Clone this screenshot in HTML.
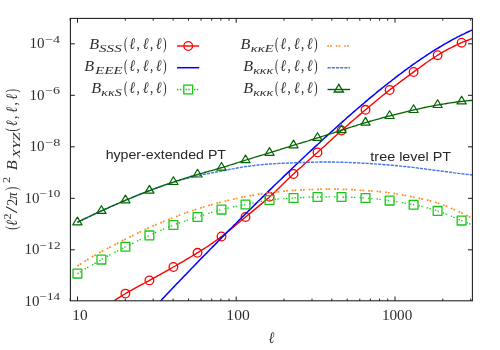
<!DOCTYPE html>
<html><head><meta charset="utf-8"><title>Bispectrum plot</title>
<style>
html,body{margin:0;padding:0;background:#fff;}
svg{display:block;}
text{fill:#2e2e2e;}
.rm{font-family:"Liberation Serif","DejaVu Serif",serif;}
.it{font-family:"Liberation Serif","DejaVu Serif",serif;font-style:italic;}
.ss{font-family:"Liberation Sans","DejaVu Sans",sans-serif;fill:#262626;}
</style></head><body>
<svg width="500" height="350" viewBox="0 0 500 350">
<rect x="0" y="0" width="500" height="350" fill="#ffffff"/>

<defs><clipPath id="pc"><rect x="70.4" y="18.4" width="402.0" height="282.4"/></clipPath></defs>
<path d="M70.4,249.8 h4.4 M472.4,249.8 h-4.4 M70.4,198.3 h4.4 M472.4,198.3 h-4.4 M70.4,146.8 h4.4 M472.4,146.8 h-4.4 M70.4,95.3 h4.4 M472.4,95.3 h-4.4 M70.4,43.8 h4.4 M472.4,43.8 h-4.4 M70.2,300.8 v-2.2 M70.2,18.4 v2.2 M77.5,300.8 v-4.3 M77.5,18.4 v4.3 M125.3,300.8 v-2.2 M125.3,18.4 v2.2 M153.2,300.8 v-2.2 M153.2,18.4 v2.2 M173.1,300.8 v-2.2 M173.1,18.4 v2.2 M188.5,300.8 v-2.2 M188.5,18.4 v2.2 M201.0,300.8 v-2.2 M201.0,18.4 v2.2 M211.7,300.8 v-2.2 M211.7,18.4 v2.2 M220.9,300.8 v-2.2 M220.9,18.4 v2.2 M229.0,300.8 v-2.2 M229.0,18.4 v2.2 M236.2,300.8 v-4.3 M236.2,18.4 v4.3 M284.0,300.8 v-2.2 M284.0,18.4 v2.2 M312.0,300.8 v-2.2 M312.0,18.4 v2.2 M331.8,300.8 v-2.2 M331.8,18.4 v2.2 M347.2,300.8 v-2.2 M347.2,18.4 v2.2 M359.8,300.8 v-2.2 M359.8,18.4 v2.2 M370.4,300.8 v-2.2 M370.4,18.4 v2.2 M379.6,300.8 v-2.2 M379.6,18.4 v2.2 M387.7,300.8 v-2.2 M387.7,18.4 v2.2 M395.0,300.8 v-4.3 M395.0,18.4 v4.3 M442.8,300.8 v-2.2 M442.8,18.4 v2.2 M470.7,300.8 v-2.2 M470.7,18.4 v2.2" stroke="#1a1a1a" stroke-width="1" fill="none"/>
<g clip-path="url(#pc)" fill="none" stroke-linejoin="round">
<polyline points="114.0,300.8 115.8,299.6 117.6,298.4 119.4,297.3 121.2,296.1 123.0,295.0 124.8,294.0 126.6,292.9 128.4,291.9 130.2,290.8 132.0,289.8 133.8,288.8 135.6,287.8 137.4,286.9 139.2,285.9 141.0,284.9 142.8,284.0 144.6,283.0 146.4,282.0 148.2,281.1 150.0,280.1 151.8,279.1 153.6,278.1 155.4,277.1 157.2,276.1 159.0,275.1 160.8,274.1 162.6,273.1 164.4,272.1 166.2,271.1 168.0,270.1 169.8,269.1 171.6,268.0 173.4,267.0 175.2,266.0 177.0,264.9 178.8,263.9 180.6,262.9 182.4,261.8 184.2,260.8 186.0,259.7 187.8,258.6 189.6,257.6 191.4,256.5 193.2,255.4 195.0,254.3 196.8,253.2 198.6,252.1 200.4,250.9 202.2,249.8 204.1,248.6 205.9,247.5 207.7,246.3 209.5,245.1 211.3,243.8 213.1,242.6 214.9,241.3 216.7,240.1 218.5,238.7 220.3,237.4 222.1,236.1 223.9,234.7 225.7,233.3 227.5,231.8 229.3,230.4 231.1,228.9 232.9,227.5 234.7,226.0 236.5,224.5 238.3,223.0 240.1,221.5 241.9,220.0 243.7,218.5 245.5,217.0 247.3,215.5 249.1,214.1 250.9,212.6 252.7,211.1 254.5,209.6 256.3,208.1 258.1,206.6 259.9,205.1 261.7,203.6 263.5,202.1 265.3,200.5 267.1,199.0 268.9,197.4 270.7,195.7 272.5,194.1 274.3,192.4 276.1,190.7 277.9,189.0 279.7,187.2 281.5,185.5 283.3,183.8 285.1,182.0 286.9,180.3 288.7,178.6 290.5,176.8 292.3,175.1 294.1,173.5 295.9,171.8 297.7,170.1 299.5,168.5 301.3,166.9 303.1,165.2 304.9,163.6 306.7,162.0 308.5,160.4 310.3,158.8 312.1,157.2 313.9,155.6 315.7,154.0 317.5,152.4 319.3,150.8 321.1,149.1 322.9,147.5 324.7,145.9 326.5,144.2 328.3,142.5 330.1,140.9 331.9,139.2 333.7,137.6 335.5,135.9 337.3,134.3 339.1,132.7 340.9,131.0 342.7,129.4 344.5,127.8 346.3,126.3 348.1,124.7 349.9,123.1 351.7,121.6 353.5,120.0 355.3,118.5 357.1,116.9 358.9,115.4 360.7,113.9 362.5,112.3 364.3,110.8 366.1,109.3 367.9,107.8 369.7,106.3 371.5,104.7 373.3,103.2 375.1,101.7 376.9,100.2 378.7,98.7 380.5,97.3 382.3,95.8 384.2,94.3 386.0,92.9 387.8,91.4 389.6,90.0 391.4,88.6 393.2,87.2 395.0,85.8 396.8,84.5 398.6,83.1 400.4,81.7 402.2,80.4 404.0,79.1 405.8,77.7 407.6,76.4 409.4,75.1 411.2,73.8 413.0,72.4 414.8,71.1 416.6,69.8 418.4,68.5 420.2,67.2 422.0,65.9 423.8,64.6 425.6,63.3 427.4,62.0 429.2,60.7 431.0,59.5 432.8,58.3 434.6,57.1 436.4,56.0 438.2,54.8 440.0,53.7 441.8,52.7 443.6,51.6 445.4,50.6 447.2,49.6 449.0,48.7 450.8,47.8 452.6,46.9 454.4,46.0 456.2,45.1 458.0,44.3 459.8,43.5 461.6,42.7 463.4,41.9 465.2,41.2 467.0,40.5 468.8,39.8 470.6,39.1 472.4,38.4" stroke="#ff0000" stroke-width="1.4"/>
<g stroke="#ff0000" stroke-width="1.3"><circle cx="125.4" cy="293.6" r="4.3"/><circle cx="149.4" cy="280.4" r="4.3"/><circle cx="173.4" cy="267.0" r="4.3"/><circle cx="197.5" cy="252.8" r="4.3"/><circle cx="221.5" cy="236.5" r="4.3"/><circle cx="245.5" cy="217.0" r="4.3"/><circle cx="269.5" cy="196.8" r="4.3"/><circle cx="293.5" cy="174.0" r="4.3"/><circle cx="317.5" cy="152.4" r="4.3"/><circle cx="341.5" cy="130.5" r="4.3"/><circle cx="365.5" cy="109.8" r="4.3"/><circle cx="389.6" cy="90.0" r="4.3"/><circle cx="413.6" cy="72.0" r="4.3"/><circle cx="437.6" cy="55.2" r="4.3"/><circle cx="461.6" cy="42.7" r="4.3"/></g>
<polyline points="158.0,303.7 159.6,302.0 161.2,300.3 162.7,298.6 164.3,297.0 165.9,295.3 167.5,293.6 169.1,291.9 170.7,290.3 172.2,288.6 173.8,286.9 175.4,285.3 177.0,283.6 178.6,282.0 180.2,280.3 181.7,278.7 183.3,277.0 184.9,275.4 186.5,273.7 188.1,272.1 189.7,270.4 191.2,268.8 192.8,267.2 194.4,265.5 196.0,263.9 197.6,262.3 199.2,260.6 200.7,259.0 202.3,257.4 203.9,255.8 205.5,254.2 207.1,252.6 208.7,250.9 210.2,249.3 211.8,247.7 213.4,246.1 215.0,244.5 216.6,242.9 218.2,241.3 219.7,239.7 221.3,238.1 222.9,236.5 224.5,234.9 226.1,233.3 227.6,231.7 229.2,230.1 230.8,228.5 232.4,227.0 234.0,225.4 235.6,223.8 237.1,222.2 238.7,220.6 240.3,219.0 241.9,217.5 243.5,215.9 245.1,214.3 246.6,212.8 248.2,211.2 249.8,209.6 251.4,208.1 253.0,206.5 254.6,204.9 256.1,203.4 257.7,201.8 259.3,200.3 260.9,198.7 262.5,197.1 264.1,195.6 265.6,194.0 267.2,192.5 268.8,190.9 270.4,189.4 272.0,187.9 273.6,186.3 275.1,184.8 276.7,183.3 278.3,181.7 279.9,180.2 281.5,178.7 283.1,177.1 284.6,175.6 286.2,174.1 287.8,172.6 289.4,171.0 291.0,169.5 292.5,168.0 294.1,166.5 295.7,165.0 297.3,163.5 298.9,162.0 300.5,160.5 302.0,159.0 303.6,157.5 305.2,156.0 306.8,154.5 308.4,153.0 310.0,151.5 311.5,150.1 313.1,148.6 314.7,147.1 316.3,145.6 317.9,144.2 319.5,142.7 321.0,141.2 322.6,139.8 324.2,138.3 325.8,136.9 327.4,135.4 329.0,134.0 330.5,132.5 332.1,131.1 333.7,129.7 335.3,128.2 336.9,126.8 338.5,125.4 340.0,124.0 341.6,122.6 343.2,121.1 344.8,119.7 346.4,118.3 347.9,116.9 349.5,115.6 351.1,114.2 352.7,112.8 354.3,111.4 355.9,110.0 357.4,108.7 359.0,107.3 360.6,106.0 362.2,104.6 363.8,103.3 365.4,101.9 366.9,100.6 368.5,99.2 370.1,97.9 371.7,96.6 373.3,95.3 374.9,94.0 376.4,92.7 378.0,91.4 379.6,90.1 381.2,88.8 382.8,87.5 384.4,86.3 385.9,85.0 387.5,83.8 389.1,82.5 390.7,81.3 392.3,80.0 393.9,78.8 395.4,77.6 397.0,76.4 398.6,75.2 400.2,74.0 401.8,72.8 403.4,71.6 404.9,70.4 406.5,69.3 408.1,68.1 409.7,67.0 411.3,65.8 412.8,64.7 414.4,63.6 416.0,62.5 417.6,61.4 419.2,60.3 420.8,59.2 422.3,58.1 423.9,57.1 425.5,56.0 427.1,55.0 428.7,53.9 430.3,52.9 431.8,51.9 433.4,50.9 435.0,49.9 436.6,48.9 438.2,48.0 439.8,47.0 441.3,46.1 442.9,45.1 444.5,44.2 446.1,43.3 447.7,42.4 449.3,41.5 450.8,40.6 452.4,39.7 454.0,38.9 455.6,38.1 457.2,37.2 458.8,36.4 460.3,35.6 461.9,34.8 463.5,34.1 465.1,33.3 466.7,32.5 468.3,31.8 469.8,31.1 471.4,30.4 473.0,29.7" stroke="#0000ff" stroke-width="1.5"/>
<polyline points="77.4,273.6 79.4,272.4 81.4,271.2 83.4,270.0 85.3,268.9 87.3,267.7 89.3,266.5 91.3,265.4 93.3,264.2 95.3,263.1 97.2,262.0 99.2,260.8 101.2,259.7 103.2,258.6 105.2,257.5 107.2,256.4 109.2,255.3 111.1,254.2 113.1,253.2 115.1,252.1 117.1,251.1 119.1,250.0 121.1,249.0 123.1,248.0 125.0,247.0 127.0,246.0 129.0,245.0 131.0,244.1 133.0,243.1 135.0,242.2 136.9,241.2 138.9,240.3 140.9,239.3 142.9,238.4 144.9,237.5 146.9,236.6 148.9,235.7 150.8,234.8 152.8,233.8 154.8,232.9 156.8,232.0 158.8,231.1 160.8,230.3 162.8,229.4 164.7,228.5 166.7,227.7 168.7,226.9 170.7,226.1 172.7,225.3 174.7,224.5 176.6,223.8 178.6,223.1 180.6,222.4 182.6,221.8 184.6,221.1 186.6,220.5 188.6,219.8 190.5,219.2 192.5,218.6 194.5,217.9 196.5,217.3 198.5,216.7 200.5,216.0 202.5,215.4 204.4,214.7 206.4,214.1 208.4,213.5 210.4,212.8 212.4,212.2 214.4,211.6 216.3,211.0 218.3,210.5 220.3,209.9 222.3,209.4 224.3,208.9 226.3,208.4 228.3,208.0 230.2,207.5 232.2,207.1 234.2,206.7 236.2,206.3 238.2,205.9 240.2,205.5 242.1,205.2 244.1,204.8 246.1,204.4 248.1,204.0 250.1,203.6 252.1,203.2 254.1,202.8 256.0,202.4 258.0,202.0 260.0,201.6 262.0,201.2 264.0,200.9 266.0,200.5 268.0,200.2 269.9,199.9 271.9,199.7 273.9,199.4 275.9,199.2 277.9,199.0 279.9,198.9 281.8,198.7 283.8,198.6 285.8,198.4 287.8,198.3 289.8,198.2 291.8,198.1 293.8,198.0 295.7,197.9 297.7,197.8 299.7,197.7 301.7,197.6 303.7,197.5 305.7,197.4 307.7,197.3 309.6,197.2 311.6,197.2 313.6,197.1 315.6,197.0 317.6,197.0 319.6,197.0 321.5,196.9 323.5,196.9 325.5,196.9 327.5,196.9 329.5,196.9 331.5,196.9 333.5,196.9 335.4,196.9 337.4,196.9 339.4,197.0 341.4,197.0 343.4,197.0 345.4,197.1 347.3,197.1 349.3,197.2 351.3,197.3 353.3,197.3 355.3,197.4 357.3,197.5 359.3,197.6 361.2,197.7 363.2,197.8 365.2,198.0 367.2,198.1 369.2,198.3 371.2,198.5 373.2,198.6 375.1,198.8 377.1,199.0 379.1,199.3 381.1,199.5 383.1,199.7 385.1,200.0 387.0,200.3 389.0,200.5 391.0,200.8 393.0,201.1 395.0,201.4 397.0,201.7 399.0,202.0 400.9,202.4 402.9,202.7 404.9,203.1 406.9,203.4 408.9,203.8 410.9,204.2 412.9,204.6 414.8,205.0 416.8,205.4 418.8,205.8 420.8,206.2 422.8,206.7 424.8,207.2 426.7,207.7 428.7,208.2 430.7,208.8 432.7,209.3 434.7,210.0 436.7,210.6 438.7,211.3 440.6,212.0 442.6,212.7 444.6,213.5 446.6,214.3 448.6,215.1 450.6,215.9 452.6,216.7 454.5,217.6 456.5,218.4 458.5,219.3 460.5,220.1 462.5,221.0 464.5,221.8 466.4,222.6 468.4,223.4 470.4,224.2 472.4,225.0" stroke="#14c814" stroke-width="1.3" stroke-dasharray="1.4 1.4 1.4 4.3"/>
<g stroke="#14c814" stroke-width="1.3"><rect x="73.0" y="269.2" width="8.8" height="8.8"/><rect x="97.0" y="255.2" width="8.8" height="8.8"/><rect x="121.0" y="242.4" width="8.8" height="8.8"/><rect x="145.0" y="231.0" width="8.8" height="8.8"/><rect x="169.0" y="220.6" width="8.8" height="8.8"/><rect x="193.1" y="212.6" width="8.8" height="8.8"/><rect x="217.1" y="205.2" width="8.8" height="8.8"/><rect x="241.1" y="200.1" width="8.8" height="8.8"/><rect x="265.1" y="195.6" width="8.8" height="8.8"/><rect x="289.1" y="193.6" width="8.8" height="8.8"/><rect x="313.1" y="192.6" width="8.8" height="8.8"/><rect x="337.1" y="192.6" width="8.8" height="8.8"/><rect x="361.1" y="193.6" width="8.8" height="8.8"/><rect x="385.2" y="196.2" width="8.8" height="8.8"/><rect x="409.2" y="200.3" width="8.8" height="8.8"/><rect x="433.2" y="206.5" width="8.8" height="8.8"/><rect x="457.2" y="216.2" width="8.8" height="8.8"/></g>
<polyline points="77.4,266.0 79.4,264.7 81.4,263.4 83.4,262.1 85.4,260.9 87.3,259.7 89.3,258.5 91.3,257.3 93.3,256.1 95.3,255.0 97.3,253.9 99.3,252.8 101.3,251.7 103.2,250.6 105.2,249.5 107.2,248.5 109.2,247.4 111.2,246.4 113.2,245.4 115.2,244.4 117.2,243.3 119.1,242.3 121.1,241.3 123.1,240.3 125.1,239.3 127.1,238.4 129.1,237.4 131.1,236.4 133.1,235.4 135.1,234.4 137.0,233.4 139.0,232.5 141.0,231.5 143.0,230.6 145.0,229.6 147.0,228.7 149.0,227.8 151.0,226.9 152.9,226.0 154.9,225.1 156.9,224.3 158.9,223.4 160.9,222.6 162.9,221.8 164.9,221.0 166.9,220.2 168.8,219.4 170.8,218.6 172.8,217.8 174.8,217.0 176.8,216.3 178.8,215.5 180.8,214.8 182.8,214.0 184.7,213.3 186.7,212.6 188.7,211.9 190.7,211.2 192.7,210.5 194.7,209.9 196.7,209.2 198.7,208.6 200.7,207.9 202.6,207.3 204.6,206.7 206.6,206.1 208.6,205.5 210.6,205.0 212.6,204.4 214.6,203.9 216.6,203.3 218.5,202.8 220.5,202.3 222.5,201.8 224.5,201.3 226.5,200.8 228.5,200.3 230.5,199.8 232.5,199.4 234.4,198.9 236.4,198.5 238.4,198.1 240.4,197.6 242.4,197.2 244.4,196.8 246.4,196.5 248.4,196.1 250.4,195.7 252.3,195.4 254.3,195.0 256.3,194.7 258.3,194.4 260.3,194.1 262.3,193.8 264.3,193.5 266.3,193.2 268.2,193.0 270.2,192.7 272.2,192.5 274.2,192.2 276.2,192.0 278.2,191.8 280.2,191.6 282.2,191.4 284.1,191.2 286.1,191.0 288.1,190.8 290.1,190.7 292.1,190.5 294.1,190.4 296.1,190.2 298.1,190.1 300.0,190.0 302.0,189.9 304.0,189.8 306.0,189.7 308.0,189.6 310.0,189.5 312.0,189.5 314.0,189.4 316.0,189.3 317.9,189.3 319.9,189.2 321.9,189.2 323.9,189.2 325.9,189.1 327.9,189.1 329.9,189.1 331.9,189.1 333.8,189.1 335.8,189.1 337.8,189.1 339.8,189.2 341.8,189.2 343.8,189.3 345.8,189.4 347.8,189.4 349.7,189.6 351.7,189.7 353.7,189.8 355.7,189.9 357.7,190.0 359.7,190.2 361.7,190.3 363.7,190.5 365.7,190.6 367.6,190.7 369.6,190.9 371.6,191.0 373.6,191.2 375.6,191.3 377.6,191.5 379.6,191.7 381.6,191.9 383.5,192.1 385.5,192.3 387.5,192.5 389.5,192.8 391.5,193.1 393.5,193.4 395.5,193.7 397.5,194.0 399.4,194.4 401.4,194.8 403.4,195.2 405.4,195.5 407.4,195.9 409.4,196.3 411.4,196.7 413.4,197.2 415.3,197.6 417.3,198.0 419.3,198.4 421.3,198.8 423.3,199.2 425.3,199.7 427.3,200.1 429.3,200.6 431.3,201.1 433.2,201.7 435.2,202.3 437.2,202.9 439.2,203.5 441.2,204.2 443.2,205.0 445.2,205.7 447.2,206.5 449.1,207.4 451.1,208.2 453.1,209.1 455.1,210.0 457.1,210.9 459.1,211.8 461.1,212.8 463.1,213.7 465.0,214.6 467.0,215.6 469.0,216.6 471.0,217.7 473.0,218.8" stroke="#ff8c1a" stroke-width="1.7" stroke-dasharray="1.8 1.0 1.8 3.9"/>
<polyline points="77.4,222.3 79.4,221.3 81.4,220.4 83.4,219.4 85.3,218.5 87.3,217.5 89.3,216.6 91.3,215.6 93.3,214.7 95.3,213.7 97.2,212.8 99.2,211.9 101.2,211.0 103.2,210.1 105.2,209.2 107.2,208.3 109.2,207.4 111.1,206.5 113.1,205.6 115.1,204.7 117.1,203.9 119.1,203.0 121.1,202.1 123.1,201.3 125.0,200.5 127.0,199.6 129.0,198.8 131.0,198.0 133.0,197.2 135.0,196.3 136.9,195.5 138.9,194.8 140.9,194.0 142.9,193.2 144.9,192.4 146.9,191.7 148.9,190.9 150.8,190.2 152.8,189.4 154.8,188.7 156.8,188.0 158.8,187.3 160.8,186.6 162.8,185.9 164.7,185.2 166.7,184.5 168.7,183.9 170.7,183.2 172.7,182.6 174.7,182.0 176.6,181.4 178.6,180.8 180.6,180.2 182.6,179.6 184.6,179.1 186.6,178.5 188.6,178.0 190.5,177.5 192.5,177.0 194.5,176.5 196.5,176.1 198.5,175.6 200.5,175.2 202.5,174.7 204.4,174.3 206.4,173.9 208.4,173.5 210.4,173.1 212.4,172.8 214.4,172.4 216.3,172.0 218.3,171.6 220.3,171.2 222.3,170.9 224.3,170.5 226.3,170.1 228.3,169.7 230.2,169.3 232.2,168.9 234.2,168.6 236.2,168.2 238.2,167.8 240.2,167.5 242.1,167.1 244.1,166.8 246.1,166.5 248.1,166.2 250.1,166.0 252.1,165.7 254.1,165.5 256.0,165.2 258.0,165.0 260.0,164.8 262.0,164.6 264.0,164.5 266.0,164.3 268.0,164.1 269.9,164.0 271.9,163.9 273.9,163.7 275.9,163.6 277.9,163.5 279.9,163.4 281.8,163.3 283.8,163.2 285.8,163.1 287.8,163.0 289.8,163.0 291.8,162.9 293.8,162.8 295.7,162.7 297.7,162.7 299.7,162.6 301.7,162.5 303.7,162.5 305.7,162.4 307.7,162.3 309.6,162.3 311.6,162.2 313.6,162.2 315.6,162.1 317.6,162.1 319.6,162.0 321.5,162.0 323.5,162.0 325.5,162.0 327.5,162.0 329.5,162.0 331.5,162.0 333.5,162.0 335.4,162.1 337.4,162.1 339.4,162.2 341.4,162.2 343.4,162.3 345.4,162.4 347.3,162.4 349.3,162.5 351.3,162.6 353.3,162.7 355.3,162.8 357.3,162.9 359.3,163.0 361.2,163.1 363.2,163.2 365.2,163.3 367.2,163.4 369.2,163.5 371.2,163.7 373.2,163.8 375.1,163.9 377.1,164.1 379.1,164.2 381.1,164.4 383.1,164.5 385.1,164.7 387.0,164.8 389.0,165.0 391.0,165.2 393.0,165.3 395.0,165.5 397.0,165.7 399.0,165.9 400.9,166.1 402.9,166.3 404.9,166.5 406.9,166.7 408.9,167.0 410.9,167.2 412.9,167.4 414.8,167.7 416.8,167.9 418.8,168.2 420.8,168.4 422.8,168.7 424.8,168.9 426.7,169.2 428.7,169.4 430.7,169.7 432.7,170.0 434.7,170.2 436.7,170.5 438.7,170.8 440.6,171.0 442.6,171.3 444.6,171.5 446.6,171.8 448.6,172.1 450.6,172.3 452.6,172.6 454.5,172.9 456.5,173.1 458.5,173.4 460.5,173.6 462.5,173.8 464.5,174.1 466.4,174.3 468.4,174.6 470.4,174.8 472.4,175.0" stroke="#4876e4" stroke-width="1.4" stroke-dasharray="3.2 1"/>
<polyline points="77.4,222.3 79.4,221.3 81.4,220.4 83.4,219.4 85.3,218.4 87.3,217.5 89.3,216.5 91.3,215.6 93.3,214.7 95.3,213.7 97.2,212.8 99.2,211.9 101.2,211.0 103.2,210.1 105.2,209.2 107.2,208.3 109.2,207.4 111.1,206.5 113.1,205.6 115.1,204.8 117.1,203.9 119.1,203.0 121.1,202.2 123.1,201.3 125.0,200.5 127.0,199.6 129.0,198.8 131.0,198.0 133.0,197.1 135.0,196.3 136.9,195.5 138.9,194.7 140.9,193.9 142.9,193.1 144.9,192.4 146.9,191.6 148.9,190.8 150.8,190.1 152.8,189.3 154.8,188.6 156.8,187.8 158.8,187.1 160.8,186.4 162.8,185.7 164.7,185.0 166.7,184.3 168.7,183.6 170.7,182.9 172.7,182.3 174.7,181.6 176.6,180.9 178.6,180.3 180.6,179.6 182.6,179.0 184.6,178.4 186.6,177.8 188.6,177.2 190.5,176.5 192.5,176.0 194.5,175.4 196.5,174.8 198.5,174.2 200.5,173.6 202.5,173.1 204.4,172.5 206.4,172.0 208.4,171.4 210.4,170.9 212.4,170.3 214.4,169.8 216.3,169.2 218.3,168.6 220.3,168.0 222.3,167.5 224.3,166.9 226.3,166.3 228.3,165.6 230.2,165.0 232.2,164.4 234.2,163.8 236.2,163.1 238.2,162.5 240.2,161.9 242.1,161.3 244.1,160.6 246.1,160.0 248.1,159.4 250.1,158.8 252.1,158.2 254.1,157.5 256.0,156.9 258.0,156.3 260.0,155.7 262.0,155.1 264.0,154.5 266.0,153.9 268.0,153.3 269.9,152.7 271.9,152.0 273.9,151.4 275.9,150.8 277.9,150.2 279.9,149.6 281.8,148.9 283.8,148.3 285.8,147.7 287.8,147.1 289.8,146.5 291.8,145.8 293.8,145.2 295.7,144.6 297.7,144.0 299.7,143.4 301.7,142.8 303.7,142.2 305.7,141.6 307.7,141.0 309.6,140.3 311.6,139.7 313.6,139.1 315.6,138.5 317.6,137.9 319.6,137.3 321.5,136.6 323.5,136.0 325.5,135.4 327.5,134.7 329.5,134.1 331.5,133.5 333.5,132.8 335.4,132.2 337.4,131.5 339.4,130.9 341.4,130.2 343.4,129.6 345.4,129.0 347.3,128.3 349.3,127.7 351.3,127.0 353.3,126.4 355.3,125.8 357.3,125.1 359.3,124.5 361.2,123.9 363.2,123.3 365.2,122.7 367.2,122.1 369.2,121.5 371.2,121.0 373.2,120.4 375.1,119.9 377.1,119.3 379.1,118.8 381.1,118.2 383.1,117.7 385.1,117.2 387.0,116.7 389.0,116.1 391.0,115.6 393.0,115.1 395.0,114.6 397.0,114.1 399.0,113.6 400.9,113.1 402.9,112.6 404.9,112.1 406.9,111.6 408.9,111.1 410.9,110.6 412.9,110.2 414.8,109.7 416.8,109.3 418.8,108.8 420.8,108.4 422.8,107.9 424.8,107.5 426.7,107.1 428.7,106.7 430.7,106.3 432.7,105.9 434.7,105.5 436.7,105.2 438.7,104.8 440.6,104.5 442.6,104.1 444.6,103.8 446.6,103.5 448.6,103.2 450.6,102.9 452.6,102.6 454.5,102.3 456.5,102.0 458.5,101.8 460.5,101.5 462.5,101.3 464.5,101.1 466.4,100.9 468.4,100.7 470.4,100.5 472.4,100.3" stroke="#006400" stroke-width="1.3"/>
<g stroke="#006400" stroke-width="1.2"><path d="M77.4,217.1 L72.8,224.8 L82.0,224.8 Z"/><path d="M101.4,205.7 L96.8,213.4 L106.0,213.4 Z"/><path d="M125.4,195.1 L120.8,202.8 L130.0,202.8 Z"/><path d="M149.4,185.4 L144.8,193.1 L154.0,193.1 Z"/><path d="M173.4,176.8 L168.8,184.5 L178.0,184.5 Z"/><path d="M197.5,169.3 L192.9,177.0 L202.1,177.0 Z"/><path d="M221.5,162.5 L216.9,170.2 L226.1,170.2 Z"/><path d="M245.5,155.0 L240.9,162.7 L250.1,162.7 Z"/><path d="M269.5,147.6 L264.9,155.3 L274.1,155.3 Z"/><path d="M293.5,140.1 L288.9,147.8 L298.1,147.8 Z"/><path d="M317.5,132.7 L312.9,140.4 L322.1,140.4 Z"/><path d="M341.5,125.0 L336.9,132.7 L346.1,132.7 Z"/><path d="M365.5,117.4 L360.9,125.1 L370.1,125.1 Z"/><path d="M389.6,110.8 L385.0,118.5 L394.2,118.5 Z"/><path d="M413.6,104.8 L409.0,112.5 L418.2,112.5 Z"/><path d="M437.6,99.8 L433.0,107.5 L442.2,107.5 Z"/><path d="M461.6,96.2 L457.0,103.9 L466.2,103.9 Z"/></g>
</g>
<rect x="70.4" y="18.4" width="402.0" height="282.4" fill="none" stroke="#1a1a1a" stroke-width="1.05"/>
<g fill="none">
<path d="M177,46.0 H199.2" stroke="#ff0000" stroke-width="1.4"/>
<g stroke="#ff0000" stroke-width="1.3"><circle cx="188.2" cy="46.0" r="4.3"/></g>
<path d="M177,67.7 H199.2" stroke="#0000ff" stroke-width="1.5"/>
<path d="M177,89.5 H199.2" stroke="#14c814" stroke-width="1.3" stroke-dasharray="1.4 1.4 1.4 4.3"/>
<g stroke="#14c814" stroke-width="1.3"><rect x="183.8" y="85.1" width="8.8" height="8.8"/></g>
<path d="M327.2,46.0 H350" stroke="#ff8c1a" stroke-width="1.7" stroke-dasharray="1.8 1.0 1.8 3.9"/>
<path d="M327.5,67.7 H350" stroke="#4876e4" stroke-width="1.4" stroke-dasharray="3.2 1"/>
<path d="M327.5,89.5 H350" stroke="#006400" stroke-width="1.4"/>
<g stroke="#006400" stroke-width="1.3"><path d="M338.8,84.3 L334.2,92.0 L343.4,92.0 Z"/></g>
</g>
<text class="it" font-size="15.5" transform="translate(89.20,49.40) scale(1.039,1.000)">B</text><text class="it" font-size="11" transform="translate(99.05,52.00) scale(1.376,1.000)">SSS</text><text class="rm" font-size="16" transform="translate(124.09,49.40) scale(0.648,1.030)">(</text><text class="it" font-size="16" transform="translate(129.22,49.40) scale(0.859,1.000)">ℓ</text><text class="rm" font-size="16" transform="translate(136.61,49.40) scale(0.820,1.000)">,</text><text class="it" font-size="16" transform="translate(142.72,49.40) scale(0.859,1.000)">ℓ</text><text class="rm" font-size="16" transform="translate(150.11,49.40) scale(0.820,1.000)">,</text><text class="it" font-size="16" transform="translate(155.72,49.40) scale(0.859,1.000)">ℓ</text><text class="rm" font-size="16" transform="translate(163.08,49.40) scale(0.673,1.030)">)</text>
<text class="it" font-size="15.5" transform="translate(84.20,71.30) scale(1.039,1.000)">B</text><text class="it" font-size="11" transform="translate(95.30,73.90) scale(1.353,1.000)">EEE</text><text class="rm" font-size="16" transform="translate(124.09,71.30) scale(0.648,1.030)">(</text><text class="it" font-size="16" transform="translate(129.22,71.30) scale(0.859,1.000)">ℓ</text><text class="rm" font-size="16" transform="translate(136.61,71.30) scale(0.820,1.000)">,</text><text class="it" font-size="16" transform="translate(142.72,71.30) scale(0.859,1.000)">ℓ</text><text class="rm" font-size="16" transform="translate(150.11,71.30) scale(0.820,1.000)">,</text><text class="it" font-size="16" transform="translate(155.72,71.30) scale(0.859,1.000)">ℓ</text><text class="rm" font-size="16" transform="translate(163.08,71.30) scale(0.673,1.030)">)</text>
<text class="it" font-size="15.5" transform="translate(91.20,93.20) scale(1.039,1.000)">B</text><text class="it" font-size="11" transform="translate(101.18,95.80) scale(1.280,1.000)">κκS</text><text class="rm" font-size="16" transform="translate(124.09,93.20) scale(0.648,1.030)">(</text><text class="it" font-size="16" transform="translate(129.22,93.20) scale(0.859,1.000)">ℓ</text><text class="rm" font-size="16" transform="translate(136.61,93.20) scale(0.820,1.000)">,</text><text class="it" font-size="16" transform="translate(142.72,93.20) scale(0.859,1.000)">ℓ</text><text class="rm" font-size="16" transform="translate(150.11,93.20) scale(0.820,1.000)">,</text><text class="it" font-size="16" transform="translate(155.72,93.20) scale(0.859,1.000)">ℓ</text><text class="rm" font-size="16" transform="translate(163.08,93.20) scale(0.673,1.030)">)</text>
<text class="it" font-size="15.5" transform="translate(240.60,49.40) scale(1.039,1.000)">B</text><text class="it" font-size="11" transform="translate(250.76,52.00) scale(1.319,1.000)">κκE</text><text class="rm" font-size="16" transform="translate(275.09,49.40) scale(0.648,1.030)">(</text><text class="it" font-size="16" transform="translate(280.23,49.40) scale(0.859,1.000)">ℓ</text><text class="rm" font-size="16" transform="translate(287.61,49.40) scale(0.820,1.000)">,</text><text class="it" font-size="16" transform="translate(293.73,49.40) scale(0.859,1.000)">ℓ</text><text class="rm" font-size="16" transform="translate(301.11,49.40) scale(0.820,1.000)">,</text><text class="it" font-size="16" transform="translate(306.73,49.40) scale(0.859,1.000)">ℓ</text><text class="rm" font-size="16" transform="translate(314.08,49.40) scale(0.673,1.030)">)</text>
<text class="it" font-size="15.5" transform="translate(243.20,71.30) scale(1.039,1.000)">B</text><text class="it" font-size="11" transform="translate(253.18,73.90) scale(1.259,1.000)">κκκ</text><text class="rm" font-size="16" transform="translate(275.09,71.30) scale(0.648,1.030)">(</text><text class="it" font-size="16" transform="translate(280.23,71.30) scale(0.859,1.000)">ℓ</text><text class="rm" font-size="16" transform="translate(287.61,71.30) scale(0.820,1.000)">,</text><text class="it" font-size="16" transform="translate(293.73,71.30) scale(0.859,1.000)">ℓ</text><text class="rm" font-size="16" transform="translate(301.11,71.30) scale(0.820,1.000)">,</text><text class="it" font-size="16" transform="translate(306.73,71.30) scale(0.859,1.000)">ℓ</text><text class="rm" font-size="16" transform="translate(314.08,71.30) scale(0.673,1.030)">)</text>
<text class="it" font-size="15.5" transform="translate(243.20,93.20) scale(1.039,1.000)">B</text><text class="it" font-size="11" transform="translate(253.18,95.80) scale(1.259,1.000)">κκκ</text><text class="rm" font-size="16" transform="translate(275.09,93.20) scale(0.648,1.030)">(</text><text class="it" font-size="16" transform="translate(280.23,93.20) scale(0.859,1.000)">ℓ</text><text class="rm" font-size="16" transform="translate(287.61,93.20) scale(0.820,1.000)">,</text><text class="it" font-size="16" transform="translate(293.73,93.20) scale(0.859,1.000)">ℓ</text><text class="rm" font-size="16" transform="translate(301.11,93.20) scale(0.820,1.000)">,</text><text class="it" font-size="16" transform="translate(306.73,93.20) scale(0.859,1.000)">ℓ</text><text class="rm" font-size="16" transform="translate(314.08,93.20) scale(0.673,1.030)">)</text>
<text class="rm" font-size="15" transform="translate(29.60,48.30) scale(1.004,1.000)">10</text>
<text class="rm" font-size="10.5" transform="translate(45.14,42.70) scale(1.334,1.000)">−4</text>
<text class="rm" font-size="15" transform="translate(29.60,99.80) scale(1.004,1.000)">10</text>
<text class="rm" font-size="10.5" transform="translate(45.13,94.20) scale(1.347,1.000)">−6</text>
<text class="rm" font-size="15" transform="translate(29.60,151.30) scale(1.004,1.000)">10</text>
<text class="rm" font-size="10.5" transform="translate(45.13,145.70) scale(1.361,1.000)">−8</text>
<text class="rm" font-size="15" transform="translate(24.50,202.80) scale(0.996,1.000)">10</text>
<text class="rm" font-size="10.5" transform="translate(39.78,197.20) scale(1.249,1.000)">−10</text>
<text class="rm" font-size="15" transform="translate(24.50,254.30) scale(0.996,1.000)">10</text>
<text class="rm" font-size="10.5" transform="translate(39.77,248.70) scale(1.266,1.000)">−12</text>
<text class="rm" font-size="15" transform="translate(24.50,305.80) scale(0.996,1.000)">10</text>
<text class="rm" font-size="10.5" transform="translate(39.78,300.20) scale(1.233,1.000)">−14</text>
<text class="rm" font-size="15" transform="translate(72.37,319.80) scale(1.026,1.000)">10</text>
<text class="rm" font-size="15" transform="translate(226.35,319.80) scale(1.041,1.000)">100</text>
<text class="rm" font-size="15" transform="translate(381.88,319.80) scale(1.016,1.000)">1000</text>
<text class="it" font-size="16" transform="translate(268.43,342.80) scale(0.859,1.000)">ℓ</text>
<g transform="translate(17.4,229.5) rotate(-90)"><text class="rm" font-size="16" transform="translate(-0.34,0.00) scale(0.694,1.030)">(</text><text class="it" font-size="15.5" transform="translate(3.42,0.00) scale(0.903,1.000)">ℓ</text><text class="rm" font-size="10.5" transform="translate(10.12,-6.00) scale(1.138,1.000)">2</text><text class="rm" font-size="16" transform="translate(16.20,0.00) scale(1.607,1.050)">/</text><text class="rm" font-size="15" transform="translate(23.73,0.00) scale(0.943,1.000)">2</text><text class="it" font-size="15" transform="translate(30.60,0.00) scale(0.868,1.000)">π</text><text class="rm" font-size="16" transform="translate(39.05,0.00) scale(0.721,1.030)">)</text><text class="rm" font-size="10.5" transform="translate(46.41,-7.80) scale(1.161,1.000)">2</text><text class="it" font-size="15.5" transform="translate(59.30,0.00) scale(1.050,1.000)">B</text><text class="it" font-size="11" transform="translate(71.39,2.60) scale(1.351,1.000)">XYZ</text><text class="rm" font-size="16" transform="translate(98.09,0.00) scale(0.648,1.030)">(</text><text class="it" font-size="16" transform="translate(103.22,0.00) scale(0.859,1.000)">ℓ</text><text class="rm" font-size="16" transform="translate(110.61,0.00) scale(0.820,1.000)">,</text><text class="it" font-size="16" transform="translate(116.72,0.00) scale(0.859,1.000)">ℓ</text><text class="rm" font-size="16" transform="translate(124.11,0.00) scale(0.820,1.000)">,</text><text class="it" font-size="16" transform="translate(129.72,0.00) scale(0.859,1.000)">ℓ</text><text class="rm" font-size="16" transform="translate(137.08,0.00) scale(0.673,1.030)">)</text></g>
<text class="ss" font-size="13" transform="translate(105.65,158.60) scale(1.090,1.000)">hyper-extended PT</text>
<text class="ss" font-size="13" transform="translate(370.36,161.00) scale(1.108,1.000)">tree level PT</text>
</svg></body></html>
